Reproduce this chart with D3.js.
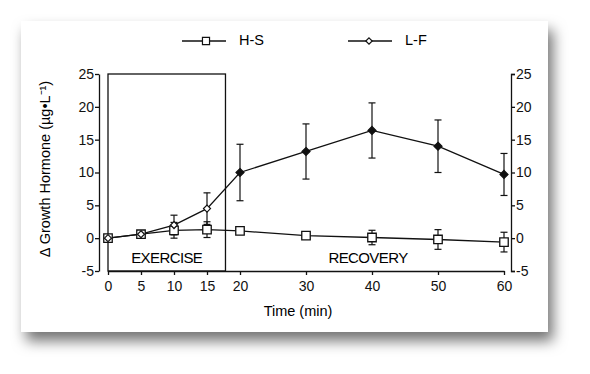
<!DOCTYPE html>
<html>
<head>
  <meta charset="utf-8">
  <title>Growth Hormone</title>
  <script src="https://d3js.org/d3.v7.min.js"></script>
  <style>
    body { margin: 0; background: #ffffff; }
    svg { display: block; font-family: "Liberation Sans", Arial, sans-serif; }
    .axis text { font-size: 14px; fill: #111; }
    .axis path, .axis line { stroke: #111; stroke-width: 1.3; }
  </style>
</head>
<body>
  <div id="chart"></div>
  <script>
    // data
    const times = [0, 5, 10, 15, 20, 30, 40, 50, 60];
    const hsValues = [0, 0.6, 1.2, 1.3, 1.1, 0.4, 0.1, -0.2, -0.6];
    const hsErrors = [0, 0, 1.2, 1.2, 0, 0, 1.1, 1.5, 1.5];
    const lfValues = [0, 0.6, 2.0, 4.5, 10.0, 13.2, 16.4, 14.0, 9.7];
    const lfErrors = [0, 0, 1.5, 2.4, 4.3, 4.2, 4.2, 4.0, 3.2];
    const lfFilled = [false, false, false, false, true, true, true, true, true];
    const yTicks = [-5, 0, 5, 10, 15, 20, 25];
    const exerciseEnd = 17.8;
    const seriesNames = ['H-S', 'L-F'];

    const width = 590, height = 374;
    const svg = d3.select('#chart').append('svg')
      .attr('width', width)
      .attr('height', height);

    // card with shadow
    const defs = svg.append('defs');
    const f = defs.append('filter').attr('id', 'shadow')
      .attr('x', '-10%').attr('y', '-10%').attr('width', '130%').attr('height', '140%');
    f.append('feDropShadow')
      .attr('dx', 5).attr('dy', 9).attr('stdDeviation', 7)
      .attr('flood-color', '#000').attr('flood-opacity', 0.55);

    svg.append('rect')
      .attr('x', 21).attr('y', 21)
      .attr('width', 527).attr('height', 311)
      .attr('fill', '#fff')
      .attr('filter', 'url(#shadow)');

    const x = d3.scaleLinear().domain([0, 60]).range([108, 504]);
    const y = d3.scaleLinear().domain([-5, 25]).range([271, 74]);

    // exercise box
    svg.append('rect')
      .attr('x', x(0))
      .attr('y', y(25))
      .attr('width', x(exerciseEnd) - x(0))
      .attr('height', y(-5) - y(25))
      .attr('fill', 'none')
      .attr('stroke', '#111')
      .attr('stroke-width', 1.3);

    svg.append('text')
      .attr('x', (x(0) + x(exerciseEnd)) / 2)
      .attr('y', y(-3.2))
      .attr('text-anchor', 'middle')
      .attr('dominant-baseline', 'middle')
      .attr('font-size', '15px')
      .attr('letter-spacing', '-0.6px')
      .text('EXERCISE');

    svg.append('text')
      .attr('x', x(40) - 4)
      .attr('y', y(-3.2))
      .attr('text-anchor', 'middle')
      .attr('dominant-baseline', 'middle')
      .attr('font-size', '15px')
      .attr('letter-spacing', '-0.6px')
      .text('RECOVERY');

    // axes
    const fmt = d => String(d);
    svg.append('g')
      .attr('class', 'axis')
      .attr('transform', 'translate(99,0)')
      .call(d3.axisLeft(y).tickValues(yTicks).tickFormat(fmt).tickSize(4).tickSizeOuter(0).tickPadding(1));

    svg.append('g')
      .attr('class', 'axis')
      .attr('transform', 'translate(511,0)')
      .call(d3.axisRight(y).tickValues(yTicks).tickFormat(fmt).tickSize(4).tickSizeOuter(4).tickPadding(1));

    svg.append('g')
      .attr('class', 'axis')
      .attr('transform', `translate(0,${y(-5)})`)
      .call(d3.axisBottom(x).tickValues(times).tickFormat(fmt).tickSize(4).tickSizeOuter(0).tickPadding(6));

    svg.selectAll('.axis .domain').attr('fill', 'none');

    // axis titles
    svg.append('text')
      .attr('x', 298)
      .attr('y', 312)
      .attr('text-anchor', 'middle')
      .attr('dominant-baseline', 'middle')
      .attr('font-size', '14.5px')
      .text('Time (min)');

    svg.append('text')
      .attr('transform', 'translate(46,169) rotate(-90)')
      .attr('text-anchor', 'middle')
      .attr('dominant-baseline', 'middle')
      .attr('font-size', '14.5px')
      .text('\u0394 Growth Hormone (\u00b5g\u2022L\u207b\u00b9)');

    const hs = times.map((t, i) => ({ t, v: hsValues[i], e: hsErrors[i] }));
    const lf = times.map((t, i) => ({ t, v: lfValues[i], e: lfErrors[i], filled: lfFilled[i] }));

    const line = d3.line().x(d => x(d.t)).y(d => y(d.v));

    function errorBars(data) {
      const g = svg.append('g').attr('stroke', '#111').attr('stroke-width', 1.2);
      data.filter(d => d.e > 0).forEach(d => {
        const cx = x(d.t);
        g.append('line').attr('x1', cx).attr('x2', cx).attr('y1', y(d.v - d.e)).attr('y2', y(d.v + d.e));
        [d.v - d.e, d.v + d.e].forEach(v => {
          g.append('line').attr('x1', cx - 3.5).attr('x2', cx + 3.5).attr('y1', y(v)).attr('y2', y(v));
        });
      });
    }

    errorBars(hs);
    errorBars(lf);

    svg.append('path').datum(hs)
      .attr('d', line).attr('fill', 'none').attr('stroke', '#111').attr('stroke-width', 1.3);
    svg.append('path').datum(lf)
      .attr('d', line).attr('fill', 'none').attr('stroke', '#111').attr('stroke-width', 1.3);

    const square = d3.symbol().type(d3.symbolSquare).size(72);
    const diamondPath = r => `M0,${-r}L${r},0L0,${r}L${-r},0Z`;

    svg.append('g').selectAll('path')
      .data(hs).enter().append('path')
      .attr('d', square)
      .attr('transform', d => `translate(${x(d.t)},${y(d.v)})`)
      .attr('fill', '#fff').attr('stroke', '#111').attr('stroke-width', 1.3);

    svg.append('g').selectAll('path')
      .data(lf).enter().append('path')
      .attr('d', d => diamondPath(d.filled ? 4 : 3.5))
      .attr('transform', d => `translate(${x(d.t)},${y(d.v)})`)
      .attr('fill', d => d.filled ? '#111' : '#fff')
      .attr('stroke', '#111').attr('stroke-width', 1.2);

    // legend
    const legend = svg.append('g').attr('transform', 'translate(0,41)');
    const legendX = [182, 348];
    seriesNames.forEach((name, i) => {
      const lx = legendX[i];
      legend.append('line').attr('x1', lx).attr('x2', lx + 44).attr('y1', 0).attr('y2', 0)
        .attr('stroke', '#111').attr('stroke-width', 1.3);
      legend.append('path')
        .attr('d', i === 0 ? d3.symbol().type(d3.symbolSquare).size(50)() : diamondPath(3.2))
        .attr('transform', `translate(${lx + (i === 0 ? 24 : 21)},0)`)
        .attr('fill', '#fff').attr('stroke', '#111').attr('stroke-width', 1.2);
      legend.append('text')
        .attr('x', lx + 57)
        .attr('y', 0)
        .attr('dominant-baseline', 'middle')
        .attr('font-size', '14.5px')
        .text(name);
    });
  </script>
</body>
</html>
